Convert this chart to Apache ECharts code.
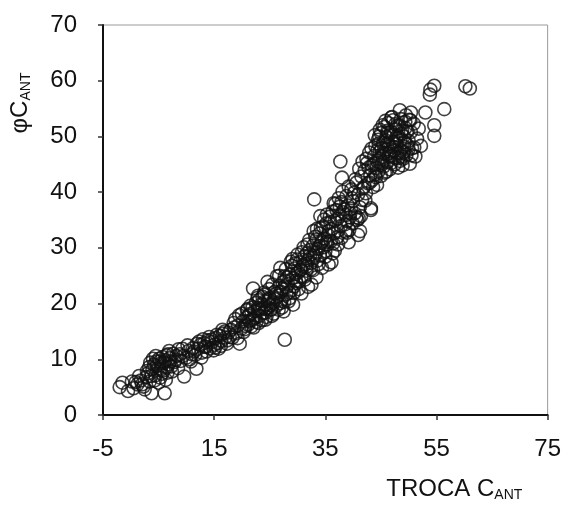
<!DOCTYPE html>
<html>
<head>
<meta charset="utf-8">
<script src="https://cdn.jsdelivr.net/npm/echarts@6/dist/echarts.min.js"></script>
<style>html,body{margin:0;padding:0;background:#fff}#c{width:564px;height:507px}</style>
</head>
<body>
<div id="c"></div>
<script>
// TROCA C_ANT (x) vs phi C_ANT (y)
const xVals = [
 -2.0,-0.5,0.5,1.2,1.8,2.3,2.8,3.1,3.4,3.75,3.9,4.2,4.4,4.6,4.9,5.1,5.3,5.5,5.7,5.9,6.1,6.2,6.4,6.6,6.8,7.0,7.3,7.6,7.9,8.2,8.5,
 3.3,3.7,4.0,4.3,4.7,5.0,5.2,5.6,6.0,6.3,6.7,7.1,2.5,1.5,0.2,-1.5,
 8.8,9.3,9.6,10.0,10.4,10.8,11.2,11.6,11.8,12.1,12.5,12.8,13.2,13.5,13.9,14.3,14.6,15.0,15.3,15.7,16.0,16.3,16.6,17.0,17.3,17.6,18.0,18.3,18.6,19.0,19.3,19.6,19.9,
 9.0,10.2,11.0,11.9,12.7,13.6,14.1,14.9,15.5,16.2,16.9,17.8,18.5,19.2,13.0,15.8,
 20.2,20.5,20.8,21.1,21.4,21.7,22.0,22.0,22.3,22.6,22.9,23.2,23.5,23.8,24.1,24.4,24.7,25.0,25.3,25.6,25.9,26.2,26.5,26.8,27.1,27.4,27.7,27.7,28.0,28.3,28.6,28.9,29.2,29.5,29.8,30.1,30.4,30.7,31.0,31.3,31.6,31.9,32.2,
 20.0,21.0,21.8,22.5,23.0,23.7,24.3,24.9,25.4,26.0,26.6,27.0,27.6,28.1,28.5,29.0,29.4,29.9,30.3,30.8,31.2,31.5,26.3,24.6,28.8,
 32.5,32.8,33.0,33.1,33.4,33.7,34.0,34.3,34.6,34.9,35.2,35.5,35.8,36.1,36.4,36.7,37.0,37.3,37.7,38.0,37.6,37.9,38.2,38.5,38.8,39.1,39.4,39.7,40.0,40.3,40.6,40.9,41.2,41.5,41.8,
 33.3,33.9,34.5,35.0,35.6,36.0,36.6,37.2,37.8,38.4,39.0,39.6,40.2,40.9,41.0,41.6,39.3,36.3,34.8,32.9,31.8,32.4,
 42.1,42.3,42.5,42.7,42.9,43.1,43.2,43.4,43.6,43.8,44.0,44.1,44.3,44.5,44.6,44.8,45.0,45.1,45.3,45.4,45.6,45.7,45.9,46.0,46.2,46.3,46.5,46.6,46.8,46.9,47.1,47.2,47.4,47.5,47.7,47.8,48.0,48.1,48.3,48.4,48.5,48.6,48.8,48.9,49.1,49.2,49.4,49.6,49.8,50.0,50.2,50.4,50.4,50.6,50.9,51.2,51.5,51.8,52.2,53.0,53.9,54.6,54.6,54.6,56.4,60.2,61.0,53.8,
 43.5,44.2,44.9,45.5,46.1,46.7,47.3,47.9,48.2,48.7,49.3,49.9,45.2,46.4,47.6,44.7,45.8,47.0,43.0,42.0,
 42.4,42.8,43.3,43.7,44.0,44.4,44.8,45.1,45.5,45.8,46.2,46.5,46.9,47.2,47.6,47.9,48.3,48.6,49.0,49.4,49.7,50.1,50.5,43.9,44.6,45.3,46.0,46.8,47.4,48.1,48.8,49.5,50.3,51.0,45.0,46.3,47.7,49.1,44.3,48.4,
 30.0,30.6,31.1,31.7,32.1,32.7,33.2,33.6,34.2,34.7,35.3,35.9,36.5,37.1,37.6,38.1,38.7,39.2,39.8,40.4,41.1,41.7,33.5,35.4,36.8,38.9,40.7,34.1,37.4,39.5,
 18.8,19.5,20.3,20.9,21.5,22.1,22.8,23.4,24.0,24.8,25.5,26.1,26.7,27.3,27.9,28.4,29.1,29.7,21.3,23.1,25.1,27.2,29.3,24.2,26.9,
 0.9,2.0,2.9,3.5,4.5,5.4,6.5,7.4,8.0,8.6,9.4,10.6,11.4,12.3,13.3,14.5,15.2,16.5,17.4,6.9,
 20.6,21.2,21.9,22.4,23.0,23.6,24.2,24.7,25.2,25.7,26.3,26.9,27.5,28.0,28.6,29.2,29.7,30.2,30.7,31.3,31.9,32.5,33.4,32.8,33.8,34.4,35.0,35.6,36.1,36.7,37.3,37.9,38.6,39.2,39.9,40.6,41.25,41.4,43.2,42.2,30.5,31.6,34.0,35.3,36.3,22.9,24.0,27.7,29.6,32.3
];
const yVals = [
 5.0,4.3,4.8,5.5,6.2,5.1,6.8,7.5,6.0,3.9,8.2,9.0,7.1,9.6,8.4,10.1,6.7,9.3,10.4,8.0,3.9,9.8,10.7,7.6,9.1,10.2,8.7,11.0,9.5,10.6,8.4,
 8.6,7.0,10.1,6.2,8.8,5.8,9.6,7.4,9.4,6.3,10.9,9.6,4.6,7.0,6.0,5.8,
 10.9,11.9,6.9,10.3,11.5,9.6,12.0,10.8,8.3,11.9,12.6,11.2,12.9,12.2,13.4,12.0,13.1,12.6,13.8,12.9,14.2,13.3,14.6,13.9,12.8,14.8,15.3,13.9,15.7,14.7,16.1,12.8,15.5,
 9.7,12.5,10.9,12.8,10.3,11.4,14.0,11.6,14.4,12.4,15.0,14.0,16.5,13.8,13.6,11.9,
 16.8,15.4,17.5,16.2,18.1,15.9,22.7,17.3,18.6,16.7,19.2,17.8,19.9,18.3,20.4,17.6,19.3,21.0,18.9,20.2,22.1,19.6,21.4,23.2,20.5,22.6,13.5,24.1,21.7,23.5,25.2,22.4,24.6,26.3,23.7,25.6,27.4,24.8,26.7,28.5,25.9,27.8,29.6,
 18.2,19.0,17.0,20.1,16.5,21.2,19.0,22.6,17.8,20.8,18.9,22.1,20.3,24.7,22.0,26.8,23.1,27.9,24.0,29.2,24.8,27.1,24.9,23.9,27.5,
 27.3,30.4,38.7,28.6,31.5,29.8,32.6,30.9,33.8,31.7,34.4,32.3,35.6,33.4,30.8,34.9,36.8,33.1,45.5,42.6,35.7,38.2,36.4,34.2,39.3,37.6,35.5,40.5,38.4,36.2,41.7,39.6,37.3,42.8,40.7,
 29.1,30.3,31.2,29.4,33.0,31.2,32.6,35.2,33.9,36.9,34.8,37.0,39.9,32.3,35.3,38.6,33.2,36.5,35.1,33.0,30.6,26.1,
 43.9,39.8,45.2,41.6,47.1,43.0,37.1,44.8,40.9,46.5,48.3,42.7,45.6,49.4,43.8,47.2,50.6,44.9,46.3,48.8,51.7,43.5,47.7,49.9,45.4,52.4,48.2,44.1,50.8,46.6,49.0,52.9,47.5,45.0,51.3,48.6,50.2,46.1,52.0,54.7,49.3,47.4,51.0,44.8,50.0,48.1,52.6,46.7,50.9,49.2,45.1,50.8,54.3,47.9,52.3,46.4,49.6,51.4,48.3,54.3,58.4,59.1,52.0,50.1,54.9,59.0,58.6,57.5,
 42.2,44.3,46.0,47.0,48.5,47.3,50.3,47.0,49.8,50.5,49.0,47.6,45.3,46.9,46.2,50.0,52.8,53.5,41.7,41.0,
 46.0,44.4,47.8,45.1,43.2,47.5,51.2,47.9,44.6,49.3,51.0,46.4,53.4,48.1,52.2,51.9,47.1,53.1,46.0,51.5,48.5,53.0,46.6,50.2,48.7,52.0,43.7,45.2,48.9,44.4,46.3,53.8,52.9,48.0,42.9,50.7,49.7,47.2,41.3,45.6,
 28.8,26.1,30.1,29.0,31.4,28.2,32.0,27.7,33.6,30.1,36.0,34.6,38.0,31.9,37.4,40.1,35.9,41.0,38.9,42.3,44.2,45.5,33.4,30.6,37.9,32.7,35.0,35.7,38.9,36.2,
 17.2,17.9,14.9,18.8,19.6,15.7,21.0,18.9,22.0,20.8,23.4,21.8,25.0,23.8,26.2,20.4,28.0,25.3,16.9,20.6,19.7,19.3,21.9,17.1,26.4,
 5.9,5.5,7.9,9.4,10.6,8.1,8.6,7.8,9.9,11.8,10.6,10.0,11.4,13.2,12.3,13.5,12.1,15.3,13.4,11.5,
 16.0,17.8,19.3,17.5,18.9,17.0,18.4,20.6,19.0,18.2,21.8,20.1,18.6,22.9,21.0,19.8,24.1,22.6,21.8,24.3,23.0,23.4,24.7,26.0,27.1,26.4,28.4,27.0,27.4,29.5,30.6,31.8,32.9,31.0,34.4,35.5,33.0,35.7,36.8,38.5,26.0,26.6,28.7,31.1,29.0,21.4,21.6,24.9,27.2,28.8
];
const xTicks = [-5, 15, 35, 55, 75];
const yTicks = [0, 10, 20, 30, 40, 50, 60, 70];

const pts = xVals.map((x, i) => [x, yVals[i]]);
const font = "'Liberation Sans', Arial, sans-serif";
const chart = echarts.init(document.getElementById('c'), null, {renderer: 'canvas'});
chart.setOption({
  animation: false,
  backgroundColor: '#fff',
  grid: {left: 103, right: 12, top: 25, bottom: 88, show: true, borderColor: '#999', borderWidth: 1},
  xAxis: {
    type: 'value', min: xTicks[0], max: xTicks[xTicks.length - 1], interval: 20,
    splitLine: {show: false},
    axisLine: {onZero: false, lineStyle: {color: '#111', width: 2}},
    axisTick: {show: true, inside: false, length: 5, lineStyle: {color: '#333', width: 1.5}},
    axisLabel: {margin: 22, color: '#111', fontSize: 24, fontFamily: font},
    name: '{a|TROCA C}{s|ANT}',
    nameLocation: 'middle', nameGap: 62,
    nameTextStyle: {padding: [0, 0, 0, 258], rich: {
      a: {fontSize: 24, fontFamily: font, color: '#111'},
      s: {fontSize: 14, fontFamily: font, color: '#111', padding: [11, 0, 0, 0]}
    }}
  },
  yAxis: {
    type: 'value', min: yTicks[0], max: yTicks[yTicks.length - 1], interval: 10,
    splitLine: {show: false},
    axisLine: {show: true, onZero: false, lineStyle: {color: '#111', width: 2}},
    axisTick: {show: true, inside: false, length: 5, lineStyle: {color: '#333', width: 1.5}},
    axisLabel: {margin: 26, color: '#111', fontSize: 24, fontFamily: font},
    name: '{a|φC}{s|ANT}',
    nameLocation: 'middle', nameGap: 70, nameRotate: 90,
    nameTextStyle: {padding: [0, 0, 0, 234], rich: {
      a: {fontSize: 24, fontFamily: font, color: '#111'},
      s: {fontSize: 14, fontFamily: font, color: '#111', padding: [11, 0, 0, 0]}
    }}
  },
  series: [{
    type: 'scatter',
    data: pts,
    symbol: 'circle',
    symbolSize: 13,
    itemStyle: {color: 'rgba(0,0,0,0)', borderColor: '#111', borderWidth: 1.6},
    emphasis: {disabled: true}
  }]
});
</script>
</body>
</html>
